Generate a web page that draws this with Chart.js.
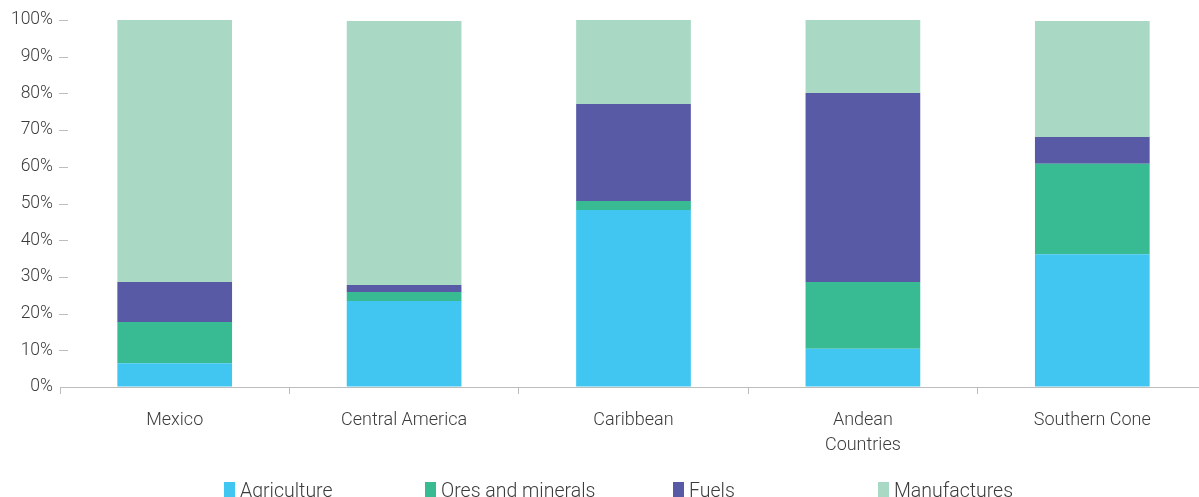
<!DOCTYPE html>
<html>
<head>
<meta charset="utf-8">
<script src="https://cdn.jsdelivr.net/npm/chart.js@4.4.1/dist/chart.umd.min.js"></script>
<style>
  html, body { margin: 0; padding: 0; overflow: hidden; background: #fff; }
  #wrap { position: relative; width: 1208px; height: 497px; }
</style>
</head>
<body>
<div id="wrap"><canvas id="c"></canvas></div>
<script>
const categories = ['Mexico', 'Central America', 'Caribbean', ['Andean', 'Countries'], 'Southern Cone'];
const seriesNames = ['Agriculture', 'Ores and minerals', 'Fuels', 'Manufactures'];
const agriculture = [6.5, 23.4, 48.2, 10.4, 36.2];
const oresMinerals = [11.2, 2.5, 2.5, 18.2, 24.6];
const fuels = [10.9, 1.9, 26.4, 51.5, 7.3];
const manufactures = [71.4, 71.9, 22.9, 19.9, 31.6];
const yTicks = [0, 10, 20, 30, 40, 50, 60, 70, 80, 90, 100];

const colors = ['#41c6f2', '#38bb93', '#585aa6', '#a9d9c5'];
const FONT = 'Roboto, "Noto Sans", sans-serif';
const TEXT = '#3c3c3c';

const yTickMarks = {
  id: 'yTickMarks',
  afterDraw(chart) {
    const y = chart.scales.y, ctx = chart.ctx, left = chart.chartArea.left;
    ctx.save();
    ctx.strokeStyle = '#bdbdbd';
    ctx.lineWidth = 1;
    y.ticks.forEach((t, i) => {
      if (t.value === 0) return;
      const py = Math.round(y.getPixelForTick(i)) + 0.5;
      ctx.beginPath();
      ctx.moveTo(left - 1, py);
      ctx.lineTo(left + 8, py);
      ctx.stroke();
    });
    ctx.restore();
  }
};

const spacedLegend = {
  id: 'spacedLegend',
  afterDraw(chart) {
    const xs = [224, 425, 673, 878];
    const ctx = chart.ctx;
    ctx.save();
    ctx.font = '300 19.5px ' + FONT;
    ctx.textBaseline = 'alphabetic';
    ctx.textAlign = 'left';
    chart.data.datasets.forEach((ds, i) => {
      ctx.fillStyle = ds.backgroundColor;
      ctx.fillRect(xs[i], 482, 11, 16);
      ctx.fillStyle = TEXT;
      ctx.fillText(ds.label, xs[i] + 16, 497);
    });
    ctx.restore();
  }
};

new Chart(document.getElementById('c'), {
  type: 'bar',
  data: {
    labels: categories,
    datasets: [
      { label: seriesNames[0], data: agriculture, backgroundColor: colors[0] },
      { label: seriesNames[1], data: oresMinerals, backgroundColor: colors[1] },
      { label: seriesNames[2], data: fuels, backgroundColor: colors[2] },
      { label: seriesNames[3], data: manufactures, backgroundColor: colors[3] }
    ]
  },
  options: {
    responsive: true,
    maintainAspectRatio: false,
    animation: false,
    layout: { padding: { top: 20, right: 1, bottom: 0, left: 0 } },
    datasets: { bar: { categoryPercentage: 1, barPercentage: 0.5, borderWidth: 0 } },
    plugins: {
      legend: { display: false },
      tooltip: { enabled: false }
    },
    scales: {
      x: {
        stacked: true,
        afterFit(s) { s.height = 110; },
        border: { display: true, color: '#bdbdbd', width: 1 },
        grid: { offset: true, drawOnChartArea: false, drawTicks: true, tickLength: 7, color: '#bdbdbd' },
        ticks: { color: TEXT, font: { family: FONT, size: 18, weight: 300, lineHeight: '25px' }, padding: 14, maxRotation: 0, autoSkip: false }
      },
      y: {
        stacked: true,
        min: 0,
        max: 100,
        afterFit(s) { s.width = 60; },
        afterBuildTicks(s) { s.ticks = yTicks.map(v => ({ value: v })); },
        border: { display: false },
        grid: { display: true, drawOnChartArea: false, drawTicks: false },
        ticks: { color: TEXT, font: { family: FONT, size: 17.5, weight: 300 }, padding: 7, callback: v => v + '%' }
      }
    }
  },
  plugins: [yTickMarks, spacedLegend]
});
</script>
</body>
</html>
